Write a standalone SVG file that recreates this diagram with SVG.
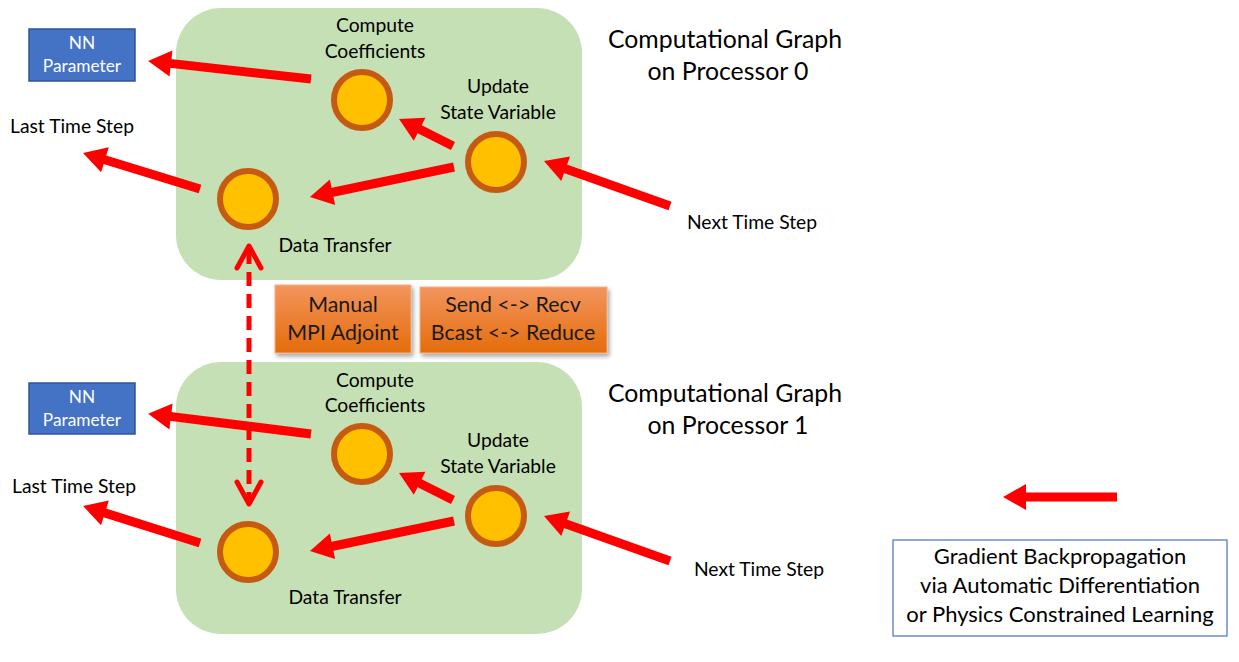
<svg xmlns="http://www.w3.org/2000/svg" width="1239" height="662" viewBox="0 0 1239 662">
<style>
text{font-family:Lato,"Open Sans","Liberation Sans",sans-serif;fill:#000;}
.lbl{font-size:19.3px;text-anchor:middle;}
.title{font-size:24.8px;text-anchor:middle;}
.nn{font-size:17.3px;fill:#fff;text-anchor:middle;}
.org{font-size:21.4px;text-anchor:middle;fill:#1a1a1a;}
.leg{font-size:22px;text-anchor:middle;}
.panel{fill:#C5E0B4;}
.node{fill:#FFC000;stroke:#C55A11;stroke-width:6;}
.nnbox{fill:#4472C4;stroke:#2F5597;stroke-width:1.5;}
.arr{stroke:#FF0000;stroke-width:9;fill:none;marker-end:url(#head);}
.dash{stroke:#FF0000;stroke-width:5;fill:none;stroke-dasharray:14 8;}
.chev{stroke:#FF0000;stroke-width:5;fill:none;stroke-linecap:round;stroke-linejoin:round;}
.obox{fill:url(#og);stroke:#F4B183;stroke-width:1;filter:url(#sh);}
</style>
<defs>
<marker id="head" markerUnits="userSpaceOnUse" markerWidth="30" markerHeight="30" refX="0" refY="0" viewBox="-2 -15 26 30" orient="auto" overflow="visible">
<path d="M-1,-13 L22,0 L-1,13 z" fill="#FF0000"/>
</marker>
<linearGradient id="og" x1="0" y1="0" x2="0" y2="1">
<stop offset="0" stop-color="#F3955E"/>
<stop offset="1" stop-color="#E46C0A"/>
</linearGradient>
<filter id="sh" x="-10%" y="-10%" width="125%" height="135%">
<feDropShadow dx="2" dy="3" stdDeviation="2" flood-color="#000" flood-opacity="0.35"/>
</filter>
</defs>

<g id="panel0"><rect class="panel" x="176" y="8" width="406" height="272" rx="45"/></g>
<g id="panel1"><rect class="panel" x="176" y="362" width="406" height="272" rx="45"/></g>

<g id="title0"><text class="title" x="725" y="48">Computational Graph</text><text class="title" x="728" y="80">on Processor 0</text></g>
<g id="title1"><text class="title" x="725" y="402">Computational Graph</text><text class="title" x="728" y="434">on Processor 1</text></g>

<g id="nn0"><rect class="nnbox" x="29" y="29" width="106" height="52"/><text class="nn" x="82" y="49">NN</text><text class="nn" x="82" y="72">Parameter</text></g>
<g id="nn1"><rect class="nnbox" x="29" y="383" width="106" height="51"/><text class="nn" x="82" y="403">NN</text><text class="nn" x="82" y="426">Parameter</text></g>

<g id="compute0"><circle class="node" cx="362" cy="100" r="28"/><text class="lbl" x="375" y="32">Compute</text><text class="lbl" x="375" y="58">Coefficients</text></g>
<g id="update0"><circle class="node" cx="496" cy="162" r="28"/><text class="lbl" x="498" y="93">Update</text><text class="lbl" x="498" y="119">State Variable</text></g>
<g id="transfer0"><circle class="node" cx="248" cy="199" r="28"/><text class="lbl" x="335" y="252">Data Transfer</text></g>
<g id="last0"><text class="lbl" x="72" y="133">Last Time Step</text></g>
<g id="next0"><text class="lbl" x="752" y="229">Next Time Step</text></g>

<g id="compute1"><circle class="node" cx="362" cy="454" r="28"/><text class="lbl" x="375" y="387">Compute</text><text class="lbl" x="375" y="412">Coefficients</text></g>
<g id="update1"><circle class="node" cx="496" cy="516" r="28"/><text class="lbl" x="498" y="447">Update</text><text class="lbl" x="498" y="473">State Variable</text></g>
<g id="transfer1"><circle class="node" cx="248" cy="552" r="28"/><text class="lbl" x="345" y="604">Data Transfer</text></g>
<g id="last1"><text class="lbl" x="74" y="493">Last Time Step</text></g>
<g id="next1"><text class="lbl" x="759" y="576">Next Time Step</text></g>

<g id="mpi"><rect class="obox" x="275" y="285" width="136" height="68"/><text class="org" x="343" y="312">Manual</text><text class="org" x="343" y="340">MPI Adjoint</text></g>
<g id="ops"><rect class="obox" x="420" y="287" width="187" height="66"/><text class="org" x="513" y="312">Send &lt;-&gt; Recv</text><text class="org" x="513" y="340">Bcast &lt;-&gt; Reduce</text></g>

<g id="legend"><rect x="893" y="540" width="334" height="96" fill="#fff" stroke="#4472C4" stroke-width="1.2"/><text class="leg" x="1060" y="564">Gradient Backpropagation</text><text class="leg" x="1060" y="593">via Automatic Differentiation</text><text class="leg" x="1060" y="622">or Physics Constrained Learning</text></g>

<g id="connectors">
<line class="arr" x1="311" y1="79" x2="170" y2="63.4"/>
<line class="arr" x1="200" y1="189" x2="104" y2="159.5"/>
<line class="arr" x1="454" y1="167" x2="331.5" y2="192.5"/>
<line class="arr" x1="453" y1="146" x2="418.7" y2="128.8"/>
<line class="arr" x1="670" y1="206" x2="564.7" y2="168.4"/>
<line class="arr" x1="311" y1="434" x2="170" y2="416.4"/>
<line class="arr" x1="200" y1="543" x2="104" y2="512.6"/>
<line class="arr" x1="454" y1="521" x2="331.5" y2="546.5"/>
<line class="arr" x1="453" y1="500" x2="418.7" y2="482.8"/>
<line class="arr" x1="670" y1="561" x2="564.7" y2="523.4"/>
<line class="arr" x1="1117" y1="497" x2="1025" y2="497"/>
<line class="dash" x1="249" y1="250" x2="249" y2="500"/>
<polyline class="chev" points="237,268 249,246 261,268"/>
<polyline class="chev" points="237,482 249,504 261,482"/>
</g>
</svg>
